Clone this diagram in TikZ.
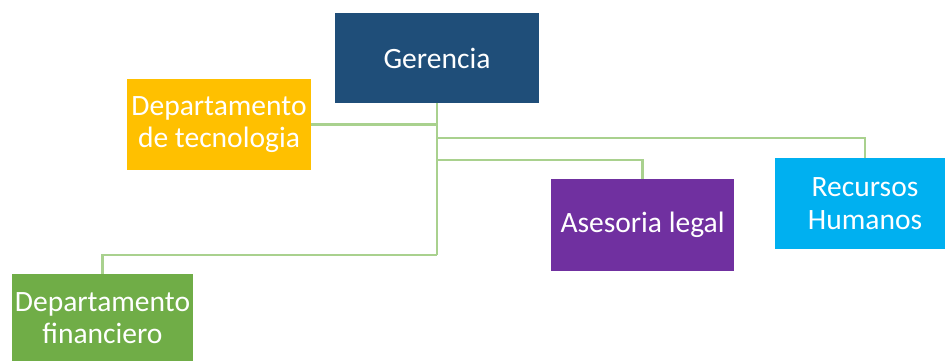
\documentclass[tikz,border=0pt]{standalone}
\usepackage{fontspec}
\setmainfont{Carlito}
\usetikzlibrary{calc}

\definecolor{gerblue}{HTML}{1F4E79}
\definecolor{tecyellow}{HTML}{FFC000}
\definecolor{legpurple}{HTML}{7030A0}
\definecolor{rhblue}{HTML}{00B0F0}
\definecolor{fingreen}{HTML}{70AD47}
\definecolor{linkgreen}{HTML}{A9D18E}

\tikzset{
  unit/.style={draw=none, text=white, align=center, inner sep=0pt,
    font=\fontsize{16.8}{18.5}\selectfont},
  link/.style={draw=linkgreen, line width=1.2pt}
}

\begin{document}
\begin{tikzpicture}[x=0.02cm,y=-0.02cm]
\clip (0,0) rectangle (945,360);
\fill[white] (0,0) rectangle (945,360);
\node[unit, fill=gerblue, minimum width=4.08cm, minimum height=1.8cm] (ger) at (437,58) {Gerencia};
\node[unit, fill=tecyellow, minimum width=3.68cm, minimum height=1.82cm] (tec) at (219,124.5) {Departamento\\de tecnologia};
\node[unit, fill=legpurple, minimum width=3.66cm, minimum height=1.84cm] (ase) at (642.5,225) {Asesoria legal};
\node[unit, fill=rhblue, minimum width=3.6cm, minimum height=1.82cm] (rh) at (865,203.5) {Recursos\\Humanos};
\node[unit, fill=fingreen, minimum width=3.62cm, minimum height=1.76cm] (fin) at (102.5,318) {Departamento\\financiero};
\coordinate (trunk) at (437,255);
\coordinate (rhrow) at (437,138);
\coordinate (aserow) at (437,160);
% trunk and branches
\draw[link] (ger.south) -- (trunk);
\draw[link] (tec.east) -- (tec.east -| ger.south);
\draw[link] (rhrow) -| (rh.north);
\draw[link] (aserow) -| (ase.north);
\draw[link] (trunk) -| (fin.north);
\end{tikzpicture}
\end{document}
